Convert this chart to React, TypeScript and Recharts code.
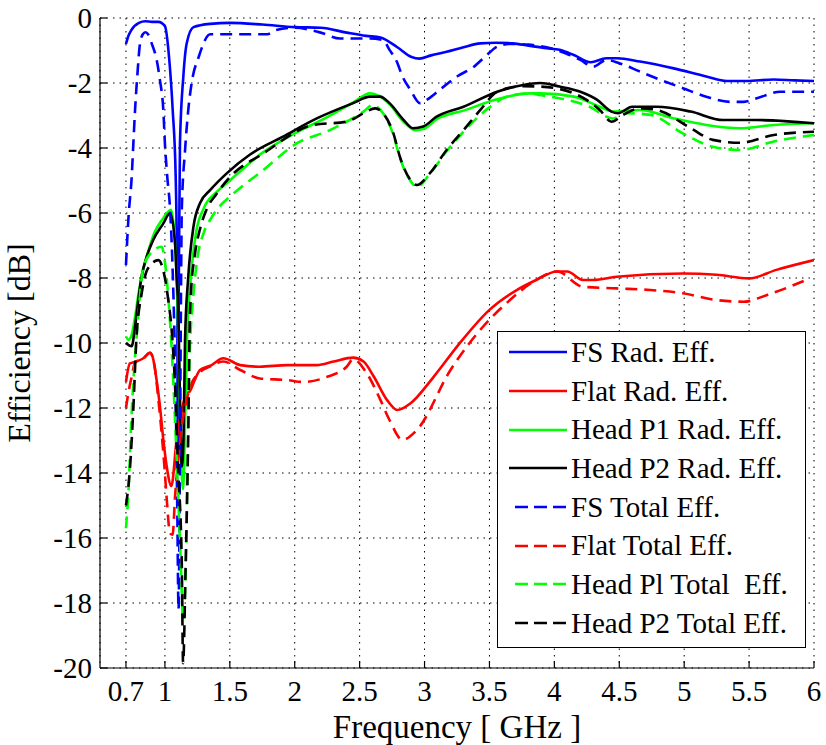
import { LineChart, Line, XAxis, YAxis, CartesianGrid, Legend } from "recharts"

const FONT = '"Liberation Serif", "DejaVu Serif", "Times New Roman", Times, serif'

// axis ticks
const freqTicks = [0.7, 1, 1.5, 2, 2.5, 3, 3.5, 4, 4.5, 5, 5.5, 6]
const effTicks = [-20, -18, -16, -14, -12, -10, -8, -6, -4, -2, 0]

// free space, radiation efficiency
const fsRadFreq = [0.7, 0.72, 0.74, 0.8, 0.85, 0.9, 0.95, 1.0, 1.034, 1.06, 1.083, 1.095, 1.1, 1.106, 1.116, 1.142, 1.168, 1.22, 1.35, 1.5, 1.75, 2.0, 2.2, 2.4, 2.55, 2.66, 2.79, 2.9, 2.96, 3.05, 3.17, 3.3, 3.43, 3.55, 3.68, 3.8, 3.94, 4.04, 4.15, 4.28, 4.4, 4.48, 4.66, 4.92, 5.17, 5.33, 5.48, 5.69, 5.85, 6.0]
const fsRadDb = [-0.8, -0.54, -0.38, -0.15, -0.1, -0.12, -0.12, -0.25, -1.3, -2.83, -4.88, -8.5, -13.5, -8.5, -3.86, -1.8, -0.78, -0.28, -0.18, -0.15, -0.2, -0.28, -0.3, -0.45, -0.55, -0.6, -0.9, -1.2, -1.25, -1.15, -1.04, -0.9, -0.78, -0.76, -0.78, -0.85, -0.93, -0.98, -1.14, -1.36, -1.24, -1.24, -1.34, -1.55, -1.8, -1.94, -1.94, -1.89, -1.92, -1.94]

// flat phantom, radiation efficiency
const flatRadFreq = [0.7, 0.73, 0.78, 0.834, 0.885, 0.905, 0.936, 0.962, 0.988, 1.014, 1.05, 1.09, 1.13, 1.168, 1.19, 1.23, 1.27, 1.35, 1.45, 1.58, 1.73, 1.94, 2.17, 2.3, 2.45, 2.53, 2.61, 2.71, 2.79, 2.89, 3.07, 3.27, 3.5, 3.71, 3.86, 4.02, 4.1, 4.22, 4.3, 4.48, 4.99, 5.25, 5.5, 5.71, 6.0]
const flatRadDb = [-11.2, -10.63, -10.57, -10.47, -10.3, -10.42, -11.14, -11.96, -12.98, -13.8, -14.4, -12.98, -12.06, -11.55, -11.5, -11.14, -10.83, -10.7, -10.47, -10.68, -10.73, -10.68, -10.68, -10.57, -10.45, -10.57, -11.04, -11.75, -12.06, -11.86, -11.04, -10.01, -8.98, -8.37, -8.06, -7.8, -7.8, -8.06, -8.06, -7.96, -7.86, -7.9, -8.01, -7.75, -7.45]

// head, position 1, radiation efficiency
const p1RadFreq = [0.7, 0.72, 0.74, 0.77, 0.8, 0.83, 0.87, 0.92, 0.98, 1.047, 1.078, 1.095, 1.11, 1.125, 1.14, 1.155, 1.17, 1.2, 1.24, 1.3, 1.4, 1.5, 1.75, 2.0, 2.25, 2.45, 2.58, 2.65, 2.73, 2.84, 2.93, 3.0, 3.1, 3.3, 3.56, 3.81, 3.89, 4.15, 4.35, 4.45, 4.66, 4.92, 5.17, 5.43, 5.69, 6.0]
const p1RadDb = [-9.8, -9.9, -9.8, -9.2, -8.4, -7.8, -7.2, -6.6, -6.2, -5.9, -6.9, -8.5, -11, -13.5, -14.5, -12.5, -9.9, -8.0, -6.6, -5.85, -5.35, -5.0, -4.15, -3.55, -3.05, -2.6, -2.32, -2.4, -2.65, -3.2, -3.45, -3.4, -3.1, -2.85, -2.5, -2.32, -2.32, -2.42, -2.73, -2.88, -2.83, -3.09, -3.29, -3.39, -3.29, -3.24]

// head, position 2, radiation efficiency
const p2RadFreq = [0.7, 0.744, 0.77, 0.795, 0.82, 0.86, 0.91, 0.988, 1.04, 1.078, 1.09, 1.103, 1.115, 1.13, 1.143, 1.155, 1.18, 1.22, 1.27, 1.35, 1.476, 1.656, 1.91, 2.17, 2.45, 2.58, 2.657, 2.73, 2.84, 2.91, 2.99, 3.09, 3.3, 3.56, 3.76, 3.89, 4.04, 4.2, 4.33, 4.44, 4.49, 4.6, 4.79, 5.05, 5.3, 5.56, 6.0]
const p2RadDb = [-10.0, -10.1, -9.5, -8.68, -7.96, -7.34, -6.83, -6.32, -6.0, -6.93, -7.96, -8.98, -11.5, -13.8, -13.0, -9.9, -7.96, -6.42, -5.7, -5.29, -4.78, -4.2, -3.65, -3.09, -2.62, -2.42, -2.42, -2.62, -3.14, -3.39, -3.34, -3.04, -2.73, -2.27, -2.06, -2.0, -2.11, -2.27, -2.52, -2.88, -2.93, -2.73, -2.73, -2.88, -3.14, -3.14, -3.24]

// free space, total efficiency
const fsTotFreq = [0.7, 0.72, 0.744, 0.757, 0.77, 0.787, 0.808, 0.83, 0.85, 0.87, 0.898, 0.937, 0.962, 0.988, 1.0, 1.018, 1.04, 1.06, 1.08, 1.095, 1.105, 1.115, 1.123, 1.13, 1.155, 1.18, 1.206, 1.26, 1.35, 1.48, 1.6, 1.79, 1.85, 2.0, 2.2, 2.35, 2.58, 2.68, 2.73, 2.786, 2.83, 2.89, 2.965, 3.016, 3.12, 3.25, 3.38, 3.48, 3.56, 3.65, 3.8, 3.94, 4.09, 4.2, 4.3, 4.4, 4.5, 4.66, 4.79, 4.99, 5.17, 5.35, 5.46, 5.56, 5.74, 6.0]
const fsTotDb = [-7.6, -6.1, -4.9, -3.86, -2.83, -1.8, -0.79, -0.5, -0.44, -0.5, -0.78, -1.3, -1.92, -2.85, -3.86, -4.88, -5.9, -7.8, -11, -15, -18.2, -14, -9, -5.9, -4.08, -2.83, -2.0, -1.2, -0.5, -0.5, -0.5, -0.5, -0.38, -0.3, -0.45, -0.63, -0.63, -0.68, -0.98, -1.34, -1.8, -2.2, -2.62, -2.52, -2.2, -1.8, -1.5, -1.14, -0.88, -0.8, -0.82, -0.9, -1.09, -1.29, -1.5, -1.29, -1.39, -1.65, -1.86, -2.16, -2.42, -2.58, -2.58, -2.47, -2.27, -2.27]

// flat phantom, total efficiency
const flatTotFreq = [0.7, 0.72, 0.744, 0.77, 0.834, 0.885, 0.92, 0.95, 0.975, 1.0, 1.014, 1.04, 1.06, 1.078, 1.103, 1.13, 1.168, 1.2, 1.27, 1.35, 1.45, 1.58, 1.73, 1.94, 2.07, 2.25, 2.4, 2.45, 2.55, 2.66, 2.73, 2.83, 2.94, 3.2, 3.45, 3.63, 3.86, 4.02, 4.22, 4.48, 4.74, 4.99, 5.25, 5.46, 5.64, 5.97]
const flatTotDb = [-12.0, -11.5, -11.04, -10.6, -10.47, -10.3, -10.7, -11.75, -12.78, -14.0, -14.8, -15.86, -15.9, -14.73, -13.6, -12.57, -11.75, -11.3, -10.9, -10.72, -10.57, -10.83, -11.09, -11.14, -11.2, -11.04, -10.73, -10.5, -10.9, -11.75, -12.37, -12.98, -12.68, -10.83, -9.5, -8.78, -8.06, -7.8, -8.27, -8.32, -8.37, -8.47, -8.68, -8.73, -8.52, -8.01]

// head, position 1, total efficiency
const p1TotFreq = [0.7, 0.72, 0.74, 0.76, 0.78, 0.8, 0.834, 0.9, 0.975, 1.0, 1.03, 1.06, 1.09, 1.12, 1.14, 1.16, 1.175, 1.19, 1.22, 1.25, 1.3, 1.35, 1.42, 1.5, 1.758, 2.015, 2.27, 2.53, 2.6, 2.68, 2.76, 2.81, 2.89, 2.94, 3.04, 3.17, 3.3, 3.5, 3.65, 3.81, 3.89, 4.27, 4.45, 4.56, 4.74, 4.99, 5.22, 5.43, 5.69, 6.0]
const p1TotDb = [-15.7, -14.5, -12.5, -11.0, -9.9, -8.9, -7.66, -7.2, -7.04, -7.5, -8.8, -10.8, -13.5, -16.5, -18.5, -17, -13.5, -10.5, -8.5, -7.4, -6.6, -6.2, -5.8, -5.5, -4.68, -3.86, -3.45, -2.88, -2.68, -2.93, -3.6, -4.3, -5.0, -5.2, -4.8, -4.1, -3.5, -2.75, -2.4, -2.32, -2.37, -2.73, -3.09, -2.93, -2.98, -3.55, -3.96, -4.06, -3.8, -3.6]

// head, position 2, total efficiency
const p2TotFreq = [0.7, 0.73, 0.757, 0.78, 0.82, 0.87, 0.95, 1.0, 1.03, 1.05, 1.08, 1.1, 1.13, 1.14, 1.16, 1.18, 1.19, 1.2, 1.23, 1.27, 1.32, 1.4, 1.5, 1.758, 2.14, 2.4, 2.53, 2.62, 2.68, 2.76, 2.81, 2.89, 2.94, 3.04, 3.17, 3.3, 3.43, 3.56, 3.76, 3.89, 4.15, 4.35, 4.44, 4.53, 4.66, 4.79, 5.05, 5.22, 5.43, 5.69, 6.0]
const p2TotDb = [-15.0, -13.9, -12.0, -9.9, -8.5, -7.7, -7.45, -8.0, -8.8, -9.5, -11.5, -13.7, -16.8, -19.85, -16.8, -12.7, -9.6, -8.5, -7.3, -6.5, -5.9, -5.4, -4.9, -4.17, -3.29, -3.19, -2.93, -2.78, -2.93, -3.55, -4.27, -4.98, -5.14, -4.78, -4.06, -3.45, -2.83, -2.27, -2.1, -2.11, -2.32, -2.83, -3.19, -2.98, -2.78, -2.83, -3.39, -3.75, -3.84, -3.6, -3.5]

const toPoints = (freq: number[], db: number[]) => freq.map((f, i) => ({ f, db: db[i] }))

const series = [
  { name: "FS Rad. Eff.", color: "#0000ff", dashed: false, data: toPoints(fsRadFreq, fsRadDb) },
  { name: "Flat Rad. Eff.", color: "#ff0000", dashed: false, data: toPoints(flatRadFreq, flatRadDb) },
  { name: "Head P1 Rad. Eff.", color: "#00ff00", dashed: false, data: toPoints(p1RadFreq, p1RadDb) },
  { name: "Head P2 Rad. Eff.", color: "#000000", dashed: false, data: toPoints(p2RadFreq, p2RadDb) },
  { name: "FS Total Eff.", color: "#0000ff", dashed: true, data: toPoints(fsTotFreq, fsTotDb) },
  { name: "Flat Total Eff.", color: "#ff0000", dashed: true, data: toPoints(flatTotFreq, flatTotDb) },
  { name: "Head Pl Total  Eff.", color: "#00ff00", dashed: true, data: toPoints(p1TotFreq, p1TotDb) },
  { name: "Head P2 Total Eff.", color: "#000000", dashed: true, data: toPoints(p2TotFreq, p2TotDb) },
]

function LegendBox() {
  return (
    <div
      style={{
        width: 309,
        height: 317,
        boxSizing: "border-box",
        border: "1.5px solid #000",
        background: "#fff",
        fontFamily: FONT,
        fontSize: 29,
        color: "#000",
        paddingTop: 1,
      }}
    >
      {series.map((s) => (
        <div key={s.name} style={{ display: "flex", alignItems: "center", height: 38.7, whiteSpace: "pre" }}>
          <svg width={62} height={10} style={{ marginLeft: 11, flex: "none" }}>
            <line
              x1={s.dashed ? 6 : 0}
              x2={58}
              y1={5}
              y2={5}
              stroke={s.color}
              strokeWidth={2.5}
              strokeDasharray={s.dashed ? "13 6" : undefined}
            />
          </svg>
          <span style={{ fontFamily: FONT }}>{s.name}</span>
        </div>
      ))}
    </div>
  )
}

export default function App() {
  const tickStyle = { fontFamily: FONT, fontSize: 29, fill: "#000" }
  return (
    <div style={{ fontFamily: FONT }}>
      <style>{"body{margin:0} .recharts-text{font-family:'Liberation Serif','DejaVu Serif',serif}"}</style>
      <LineChart width={826} height={745} margin={{ top: 18, right: 12, bottom: 0, left: 0 }}>
        <CartesianGrid stroke="#000" strokeDasharray="1.5 5" strokeWidth={1} />
        <XAxis
          type="number"
          dataKey="f"
          domain={[0.5, 6]}
          ticks={freqTicks}
          interval={0}
          allowDataOverflow
          height={77}
          tickSize={-7}
          tickMargin={19}
          tick={tickStyle}
          stroke="#000"
          strokeWidth={1.2}
          label={{ value: "Frequency [ GHz ]", position: "insideBottom", offset: 7, style: { fontFamily: FONT, fontSize: 33, fill: "#000" } }}
        />
        <XAxis
          xAxisId="top"
          orientation="top"
          type="number"
          domain={[0.5, 6]}
          ticks={freqTicks}
          interval={0}
          allowDataOverflow
          height={0}
          tick={false}
          tickSize={-7}
          stroke="#000"
          strokeWidth={1.2}
        />
        <YAxis
          type="number"
          domain={[-20, 0]}
          ticks={effTicks}
          interval={0}
          allowDataOverflow
          width={100}
          tickSize={-7}
          tickMargin={15}
          tick={tickStyle}
          stroke="#000"
          strokeWidth={1.2}
          label={{ value: "Efficiency [dB]", angle: -90, position: "insideLeft", offset: 19, style: { fontFamily: FONT, fontSize: 32, fill: "#000", textAnchor: "middle" } }}
        />
        <YAxis
          yAxisId="right"
          orientation="right"
          type="number"
          domain={[-20, 0]}
          ticks={effTicks}
          interval={0}
          allowDataOverflow
          width={0}
          tick={false}
          tickSize={-7}
          stroke="#000"
          strokeWidth={1.2}
        />
        {series.map((s) => (
          <Line
            key={s.name}
            name={s.name}
            data={s.data}
            dataKey="db"
            type="monotone"
            stroke={s.color}
            strokeWidth={2.6}
            strokeDasharray={s.dashed ? "12 7" : undefined}
            dot={false}
            activeDot={false}
            isAnimationActive={false}
          />
        ))}
        <Legend
          layout="vertical"
          align="center"
          verticalAlign="middle"
          content={() => <LegendBox />}
          wrapperStyle={{ left: 497, top: 331, width: 309, height: 317 }}
        />
      </LineChart>
    </div>
  )
}
